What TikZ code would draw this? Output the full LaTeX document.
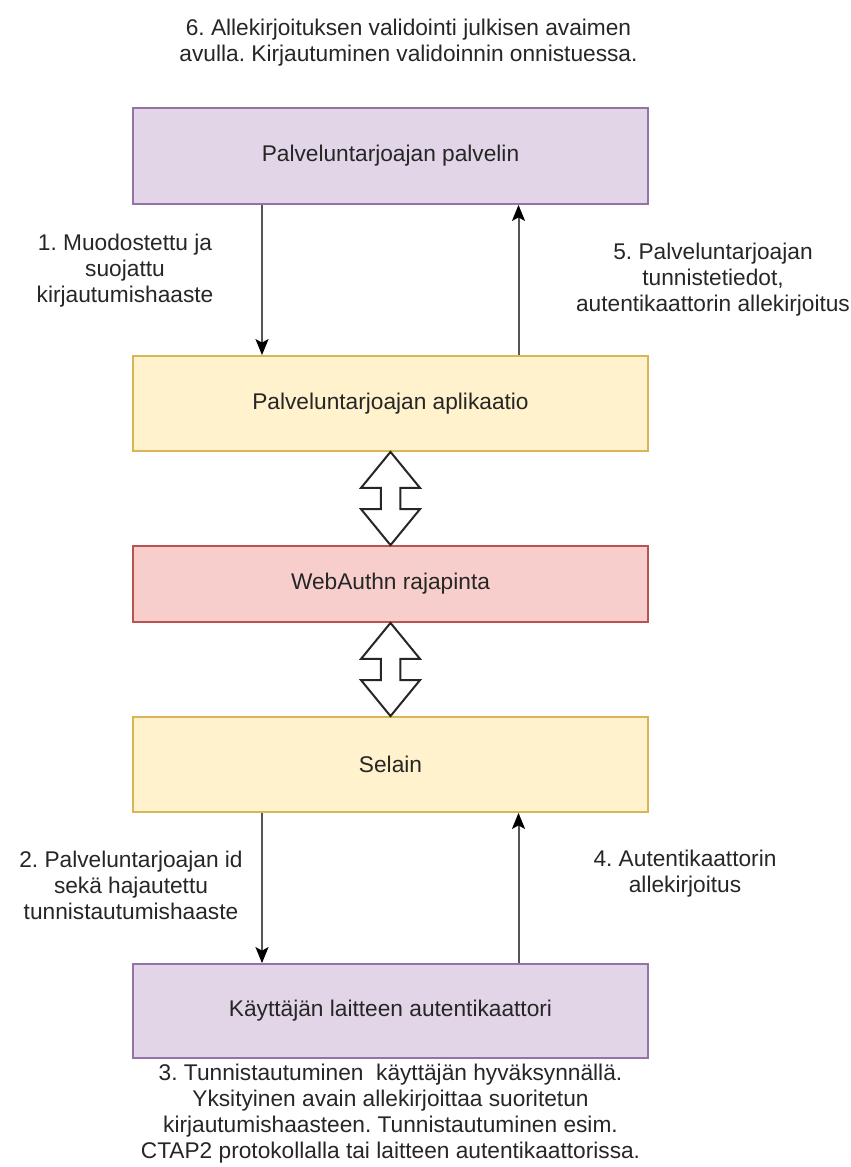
\documentclass[tikz,border=0pt]{standalone}
\usepackage{fontspec}
\setmainfont{Liberation Sans}
\usepackage{xcolor}
\usepackage{tikz}
\usetikzlibrary{calc}
\usetikzlibrary{arrows.meta}
\frenchspacing
\definecolor{purplefill}{HTML}{E1D5E7}
\definecolor{purpleline}{HTML}{9673A6}
\definecolor{yellowfill}{HTML}{FFF2CC}
\definecolor{yellowline}{HTML}{D6B656}
\definecolor{redfill}{HTML}{F8CECC}
\definecolor{redline}{HTML}{B85450}
\definecolor{flowgray}{HTML}{555555}
\tikzset{
  txt/.style={font=\fontsize{22.7}{26}\selectfont, text=black!85},
  block/.style={txt, draw, line width=1.8pt, minimum width=515pt, inner sep=0pt},
  lbl/.style={txt, align=center, inner sep=0pt},
  flow/.style={draw=flowgray, line width=2pt,
    -{Stealth[length=16pt, width=13pt, inset=3.5pt, color=black]}},
  wide/.style={draw=black!85, line width=2pt, fill=white, line join=miter}
}
\newcommand{\dblarrow}[2]{
\coordinate (top) at (#1.south);
\coordinate (bot) at (#2.north);
\draw[wide] (top)
   -- ($(top) + (29.5, 36)$) -- ($(top) + (9.75, 36)$)
   -- ($(bot) + (9.75, -36)$) -- ($(bot) + (29.5, -36)$)
   -- (bot)
   -- ($(bot) + (-29.5, -36)$) -- ($(bot) + (-9.75, -36)$)
   -- ($(top) + (-9.75, 36)$) -- ($(top) + (-29.5, 36)$)
   -- cycle;
}

\begin{document}
\begin{tikzpicture}[x=1pt, y=-1pt]
\useasboundingbox (0, 0) rectangle (851, 1167);
\node[block, fill=purplefill, draw=purpleline, minimum height=96pt] (palvelin) at (390.5, 156) {Palveluntarjoajan palvelin};
\node[block, fill=yellowfill, draw=yellowline, minimum height=95pt] (sovellus) at (390.5, 403.5) {Palveluntarjoajan aplikaatio};
\node[block, fill=redfill, draw=redline, minimum height=76pt] (rajapinta) at (390.5, 584) {WebAuthn rajapinta};
\node[block, fill=yellowfill, draw=yellowline, minimum height=95pt] (selain) at (390.5, 764.5) {Selain};
\node[block, fill=purplefill, draw=purpleline, minimum height=94pt] (autentikaattori) at (390.5, 1011) {Käyttäjän laitteen autentikaattori};

\draw[flow] ([xshift=-128.5pt]palvelin.south) -- ([xshift=-128.5pt]sovellus.north);
\draw[flow] ([xshift=128pt]sovellus.north) -- ([xshift=128pt]palvelin.south);
\draw[flow] ([xshift=-128.5pt]selain.south) -- ([xshift=-128.5pt]autentikaattori.north);
\draw[flow] ([xshift=128pt]autentikaattori.north) -- ([xshift=128pt]selain.south);

\dblarrow{sovellus}{rajapinta}
\dblarrow{rajapinta}{selain}

\node[lbl] (viesti6) at (408.5, 43) {6. Allekirjoituksen validointi julkisen avaimen\\avulla. Kirjautuminen validoinnin onnistuessa.};
\node[lbl] (viesti1) at (125, 271) {1. Muodostettu ja\\suojattu\\kirjautumishaaste};
\node[lbl] (viesti5) at (713, 280) {5. Palveluntarjoajan\\tunnistetiedot,\\autentikaattorin allekirjoitus};
\node[lbl] (viesti2) at (131, 885) {2. Palveluntarjoajan id\\sekä hajautettu\\tunnistautumishaaste};
\node[lbl] (viesti4) at (685, 874) {4. Autentikaattorin\\allekirjoitus};
\node[lbl] (viesti3) at (390.5, 1114) {3. Tunnistautuminen\ \ käyttäjän hyväksynnällä.\\Yksityinen avain allekirjoittaa suoritetun\\kirjautumishaasteen. Tunnistautuminen esim.\\CTAP2 protokollalla tai laitteen autentikaattorissa.};
\end{tikzpicture}
\end{document}
